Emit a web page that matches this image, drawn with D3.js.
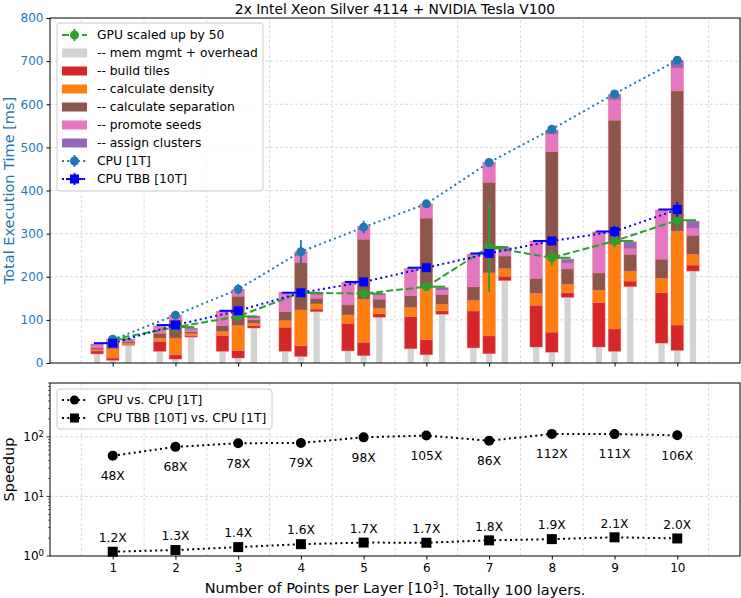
<!DOCTYPE html>
<html>
<head>
<meta charset="utf-8">
<script src="https://cdn.jsdelivr.net/npm/d3@7"></script>
<style>
  body { margin: 0; background: #fff; }
  text { font-family: "DejaVu Sans", sans-serif; }
</style>
</head>
<body>
<svg id="chart"></svg>
<script>
// x positions (thousands of points per layer)
const layers = [1, 2, 3, 4, 5, 6, 7, 8, 9, 10];

// totals [ms]
const cpu1T    = [54, 111, 171, 258, 315, 369, 465, 542, 624, 702];
const cpu1TErr = [2, 4, 12, 27, 15, 3, 3, 3, 3, 3];
const cpuTBB    = [46, 88, 121, 163, 188, 221, 254, 283, 305, 356];
const cpuTBBErr = [2, 3, 3, 9, 5, 4, 4, 5, 13, 17];
const gpu50    = [55, 83, 108, 163, 161, 177, 269, 244, 283, 331];
const gpu50Err = [2, 3, 4, 4, 3, 4, 104, 19, 15, 21];

// stacked parts, order: mem mgmt, build tiles, density, separation, promote, assign
const cpuGray   = [6, 9, 11.5, 15, 17, 19, 21.5, 25, 27, 29];
const cpuRed    = [5.5, 10, 17.5, 25, 31, 35, 41.5, 46.5, 52, 59];
const cpuOrange = [21.5, 39, 57.8, 83, 100, 120.5, 146, 170.5, 196, 218];
const cpuBrown  = [14.6, 42, 68, 110, 139, 161.5, 210, 248, 288, 325];
const cpuPink   = [6.4, 10, 15, 23, 28, 31, 43, 41, 47, 53];
const cpuPurple = [1, 1, 1, 2, 2, 2, 3, 9, 13, 18];

const tbbGray   = [21, 27, 27, 27, 28, 33, 35, 37, 37, 46];
const tbbRed    = [7, 23, 36.7, 56, 64, 74.6, 85.7, 96.8, 103, 117];
const tbbOrange = [3, 7.6, 9.3, 15.4, 19.5, 21.4, 25.3, 27.7, 29, 33];
const tbbBrown  = [4, 11.4, 13.8, 20.6, 23.1, 27, 30.8, 34.5, 40, 44.7];
const tbbPink   = [7, 15.5, 32.2, 43, 50.4, 61, 73.2, 85, 93, 112.3];
const tbbPurple = [2, 1.5, 1, 2, 2, 2, 2, 2, 2, 2];

const gpuGray   = [41, 60, 81, 119, 106, 113, 191, 152, 177, 213];
const gpuRed    = [2, 3, 6, 6, 8, 8, 10, 11, 13, 14];
const gpuOrange = [3, 5, 5, 12, 13, 15, 18, 20, 23, 25];
const gpuBrown  = [4, 5, 8, 13, 21, 23, 29, 35, 39, 44];
const gpuPink   = [2, 4, 4, 8, 9, 10, 13, 14, 13, 17];
const gpuPurple = [3, 4, 5, 4, 4, 6, 7, 9, 16, 16];

// speedups vs CPU [1T]
const speedupGPU = [48.3, 67.8, 78, 79, 98, 105, 86, 112, 111, 106];
const speedupTBB = [1.18, 1.26, 1.41, 1.58, 1.68, 1.67, 1.83, 1.92, 2.06, 1.97];

const partNames = ['-- mem mgmt + overhead', '-- build tiles', '-- calculate density',
                   '-- calculate separation', '-- promote seeds', '-- assign clusters'];
const partColors = ['#d3d3d3', '#d62728', '#ff7f0e', '#8c564b', '#e377c2', '#9467bd'];

const W = 741, H = 598;
const svg = d3.select('#chart').attr('width', W).attr('height', H);

const x = d3.scaleLinear().domain([0, 11]).range([50, 740]);
const yTop = d3.scaleLinear().domain([0, 800]).range([363, 18]);
const ySp = d3.scaleLog().domain([1, 800]).range([556, 383]);

const gridColor = '#d0d0d0';
const halfSteps = d3.range(0.5, 11, 1);
const tickFont = '12px', legFont = '12.3px', labelFont = '14.5px';

// ---------- top panel ----------
const topG = svg.append('g');

topG.selectAll('.vg').data(halfSteps).enter().append('line')
  .attr('x1', d => x(d)).attr('x2', d => x(d))
  .attr('y1', yTop(0)).attr('y2', yTop(800))
  .attr('stroke', gridColor).attr('stroke-width', 0.8).attr('stroke-dasharray', '3,2');
topG.selectAll('.hg').data(d3.range(100, 800, 100)).enter().append('line')
  .attr('x1', x(0)).attr('x2', x(11))
  .attr('y1', d => yTop(d)).attr('y2', d => yTop(d))
  .attr('stroke', gridColor).attr('stroke-width', 0.8).attr('stroke-dasharray', '3,2');

const barGroups = [
  { off: -0.25, parts: [tbbGray, tbbRed, tbbOrange, tbbBrown, tbbPink, tbbPurple] },
  { off: 0,     parts: [cpuGray, cpuRed, cpuOrange, cpuBrown, cpuPink, cpuPurple] },
  { off: 0.25,  parts: [gpuGray, gpuRed, gpuOrange, gpuBrown, gpuPink, gpuPurple] }
];
const barW = x(0.2) - x(0);
const grayW = x(0.1) - x(0);

barGroups.forEach(g => {
  layers.forEach((l, i) => {
    const cx = x(l + g.off);
    let base = 0;
    g.parts.forEach((arr, k) => {
      const v = arr[i];
      const w = k === 0 ? grayW : barW;
      topG.append('rect')
        .attr('x', cx - w / 2)
        .attr('width', w)
        .attr('y', yTop(base + v))
        .attr('height', yTop(base) - yTop(base + v))
        .attr('fill', partColors[k])
        .attr('stroke', k === 0 ? 'none' : 'rgba(240,110,120,0.45)')
        .attr('stroke-width', 0.8);
      base += v;
    });
  });
});

function drawSeries(g, vals, errs, color, dash, marker, xerr) {
  const line = d3.line().x((d, i) => x(layers[i])).y(d => yTop(d));
  g.append('path').datum(vals).attr('d', line)
    .attr('fill', 'none').attr('stroke', color).attr('stroke-width', 2)
    .attr('stroke-dasharray', dash);
  vals.forEach((v, i) => {
    const cx = x(layers[i]);
    g.append('line').attr('x1', cx).attr('x2', cx)
      .attr('y1', yTop(v - errs[i])).attr('y2', yTop(v + errs[i]))
      .attr('stroke', color).attr('stroke-width', 1.8);
    if (xerr) {
      g.append('line').attr('x1', x(layers[i] + xerr)).attr('x2', cx)
        .attr('y1', yTop(v)).attr('y2', yTop(v))
        .attr('stroke', color).attr('stroke-width', 2);
    }
    if (marker === 'square') {
      g.append('rect').attr('x', cx - 4.5).attr('y', yTop(v) - 4.5)
        .attr('width', 9).attr('height', 9).attr('fill', color);
    } else {
      g.append('circle').attr('cx', cx).attr('cy', yTop(v)).attr('r', 4.5).attr('fill', color);
    }
  });
}

drawSeries(topG, gpu50, gpu50Err, '#2ca02c', '7,3', 'circle', 0.3);
drawSeries(topG, cpu1T, cpu1TErr, '#1f77b4', '2,3.3', 'circle', 0);
drawSeries(topG, cpuTBB, cpuTBBErr, '#0000ff', '2,3.3', 'square', -0.3);

// axes of top panel
topG.append('rect').attr('x', x(0)).attr('y', yTop(800))
  .attr('width', x(11) - x(0)).attr('height', yTop(0) - yTop(800))
  .attr('fill', 'none').attr('stroke', '#000').attr('stroke-width', 1);
const yAxisTop = topG.append('g').attr('transform', `translate(${x(0)},0)`)
  .call(d3.axisLeft(yTop).tickValues(d3.range(0, 801, 100)).tickSize(3.5).tickPadding(3));
yAxisTop.select('.domain').remove();
yAxisTop.selectAll('text').attr('fill', '#1f77b4').style('font-size', tickFont)
  .style('font-family', '"DejaVu Sans", sans-serif');
const xAxisTop = topG.append('g').attr('transform', `translate(0,${yTop(0)})`)
  .call(d3.axisBottom(x).tickValues(layers).tickSize(3.5).tickFormat(''));
xAxisTop.select('.domain').remove();

topG.append('text')
  .attr('transform', `translate(9,${(yTop(0) + yTop(800)) / 2}) rotate(-90)`)
  .attr('text-anchor', 'middle').attr('dy', '0.35em')
  .attr('fill', '#1f77b4').style('font-size', labelFont)
  .text('Total Execution Time [ms]');

svg.append('text').attr('x', (x(0) + x(11)) / 2).attr('y', 9).attr('dy', '0.35em')
  .attr('text-anchor', 'middle').style('font-size', '13.8px')
  .text('2x Intel Xeon Silver 4114 + NVIDIA Tesla V100');

// legend top
const legT = topG.append('g');
legT.append('rect').attr('x', 57).attr('y', 23).attr('width', 206).attr('height', 168)
  .attr('rx', 3).attr('fill', 'rgba(255,255,255,0.8)').attr('stroke', '#cccccc');
const legItems = [
  { type: 'line', color: '#2ca02c', dash: '7,3', marker: 'circle', label: 'GPU scaled up by 50' },
  ...partNames.map((n, k) => ({ type: 'patch', color: partColors[k], label: n })),
  { type: 'line', color: '#1f77b4', dash: '2,3.3', marker: 'circle', label: 'CPU [1T]' },
  { type: 'line', color: '#0000ff', dash: '2,3.3', marker: 'square', label: 'CPU TBB [10T]' }
];
legItems.forEach((it, i) => {
  const cy = 35 + i * 18;
  if (it.type === 'patch') {
    legT.append('rect').attr('x', 62).attr('y', cy - 4.5).attr('width', 25).attr('height', 9)
      .attr('fill', it.color);
  } else {
    legT.append('line').attr('x1', 62).attr('x2', 87).attr('y1', cy).attr('y2', cy)
      .attr('stroke', it.color).attr('stroke-width', 2).attr('stroke-dasharray', it.dash);
    legT.append('line').attr('x1', 74.5).attr('x2', 74.5).attr('y1', cy - 6).attr('y2', cy + 6)
      .attr('stroke', it.color).attr('stroke-width', 1.8);
    if (it.marker === 'square') {
      legT.append('line').attr('x1', 66).attr('x2', 83).attr('y1', cy).attr('y2', cy)
        .attr('stroke', it.color).attr('stroke-width', 2);
      legT.append('rect').attr('x', 70).attr('y', cy - 4.5).attr('width', 9).attr('height', 9)
        .attr('fill', it.color);
    } else {
      legT.append('circle').attr('cx', 74.5).attr('cy', cy).attr('r', 4.5).attr('fill', it.color);
    }
  }
  legT.append('text').attr('x', 97).attr('y', cy).attr('dy', '0.35em')
    .style('font-size', legFont).text(it.label);
});

// ---------- bottom panel ----------
const botG = svg.append('g');

botG.selectAll('.vg').data(halfSteps).enter().append('line')
  .attr('x1', d => x(d)).attr('x2', d => x(d))
  .attr('y1', ySp(1)).attr('y2', ySp(800))
  .attr('stroke', gridColor).attr('stroke-width', 0.8).attr('stroke-dasharray', '3,2');
botG.selectAll('.hg').data([10, 100]).enter().append('line')
  .attr('x1', x(0)).attr('x2', x(11))
  .attr('y1', d => ySp(d)).attr('y2', d => ySp(d))
  .attr('stroke', gridColor).attr('stroke-width', 0.8).attr('stroke-dasharray', '3,2');

function drawSpeed(vals, marker) {
  const line = d3.line().x((d, i) => x(layers[i])).y(d => ySp(d));
  botG.append('path').datum(vals).attr('d', line)
    .attr('fill', 'none').attr('stroke', '#000').attr('stroke-width', 2)
    .attr('stroke-dasharray', '2,3.3');
  vals.forEach((v, i) => {
    const cx = x(layers[i]);
    if (marker === 'square') {
      botG.append('rect').attr('x', cx - 5).attr('y', ySp(v) - 5)
        .attr('width', 10).attr('height', 10).attr('fill', '#000');
    } else {
      botG.append('circle').attr('cx', cx).attr('cy', ySp(v)).attr('r', 5).attr('fill', '#000');
    }
  });
}
drawSpeed(speedupGPU, 'circle');
drawSpeed(speedupTBB, 'square');

botG.selectAll('.lg').data(speedupGPU).enter().append('text')
  .attr('x', (d, i) => x(layers[i])).attr('y', d => ySp(d) + 20).attr('dy', '0.35em')
  .attr('text-anchor', 'middle').style('font-size', legFont)
  .text(d => d.toFixed(0) + 'X');
botG.selectAll('.lt').data(speedupTBB).enter().append('text')
  .attr('x', (d, i) => x(layers[i])).attr('y', d => ySp(d) - 14).attr('dy', '0.35em')
  .attr('text-anchor', 'middle').style('font-size', legFont)
  .text(d => d.toFixed(1) + 'X');

botG.append('rect').attr('x', x(0)).attr('y', ySp(800))
  .attr('width', x(11) - x(0)).attr('height', ySp(1) - ySp(800))
  .attr('fill', 'none').attr('stroke', '#000').attr('stroke-width', 1);

// log y axis
const minorTicks = [];
[1, 10, 100].forEach(dec => d3.range(2, 10).forEach(m => { if (dec * m <= 800) minorTicks.push(dec * m); }));
botG.selectAll('.mt').data(minorTicks).enter().append('line')
  .attr('x1', x(0) - 2).attr('x2', x(0)).attr('y1', d => ySp(d)).attr('y2', d => ySp(d))
  .attr('stroke', '#000').attr('stroke-width', 0.6);
[0, 1, 2].forEach(p => {
  const yy = ySp(Math.pow(10, p));
  botG.append('line').attr('x1', x(0) - 3.5).attr('x2', x(0)).attr('y1', yy).attr('y2', yy)
    .attr('stroke', '#000').attr('stroke-width', 0.8);
  const t = botG.append('text').attr('x', x(0) - 6).attr('y', yy).attr('dy', '0.35em')
    .attr('text-anchor', 'end').style('font-size', tickFont);
  t.append('tspan').text('10');
  t.append('tspan').attr('dy', '-0.45em').style('font-size', '8.5px').text(p);
});

const xAxisBot = botG.append('g').attr('transform', `translate(0,${ySp(1)})`)
  .call(d3.axisBottom(x).tickValues(layers).tickSize(3.5).tickPadding(4));
xAxisBot.select('.domain').remove();
xAxisBot.selectAll('text').style('font-size', tickFont).style('font-family', '"DejaVu Sans", sans-serif')
  .attr('fill', '#000');

botG.append('text')
  .attr('transform', `translate(9,${(ySp(1) + ySp(800)) / 2}) rotate(-90)`)
  .attr('text-anchor', 'middle').attr('dy', '0.35em').style('font-size', labelFont)
  .text('Speedup');

const xl = svg.append('text').attr('x', (x(0) + x(11)) / 2).attr('y', 588).attr('dy', '0.35em')
  .attr('text-anchor', 'middle').style('font-size', labelFont);
xl.append('tspan').text('Number of Points per Layer [10');
xl.append('tspan').attr('dy', '-0.45em').style('font-size', '10px').text('3');
xl.append('tspan').attr('dy', '0.45em').text(']. Totally 100 layers.');

// legend bottom
const legB = botG.append('g');
legB.append('rect').attr('x', 57).attr('y', 389).attr('width', 215).attr('height', 40)
  .attr('rx', 3).attr('fill', 'rgba(255,255,255,0.8)').attr('stroke', '#cccccc');
[{ m: 'circle', label: 'GPU vs. CPU [1T]' }, { m: 'square', label: 'CPU TBB [10T] vs. CPU [1T]' }]
  .forEach((it, i) => {
    const cy = 400 + i * 18;
    legB.append('line').attr('x1', 62).attr('x2', 87).attr('y1', cy).attr('y2', cy)
      .attr('stroke', '#000').attr('stroke-width', 2).attr('stroke-dasharray', '2,3.3');
    if (it.m === 'square') {
      legB.append('rect').attr('x', 70).attr('y', cy - 4.5).attr('width', 9).attr('height', 9).attr('fill', '#000');
    } else {
      legB.append('circle').attr('cx', 74.5).attr('cy', cy).attr('r', 4.5).attr('fill', '#000');
    }
    legB.append('text').attr('x', 97).attr('y', cy).attr('dy', '0.35em')
      .style('font-size', legFont).text(it.label);
  });
</script>
</body>
</html>
